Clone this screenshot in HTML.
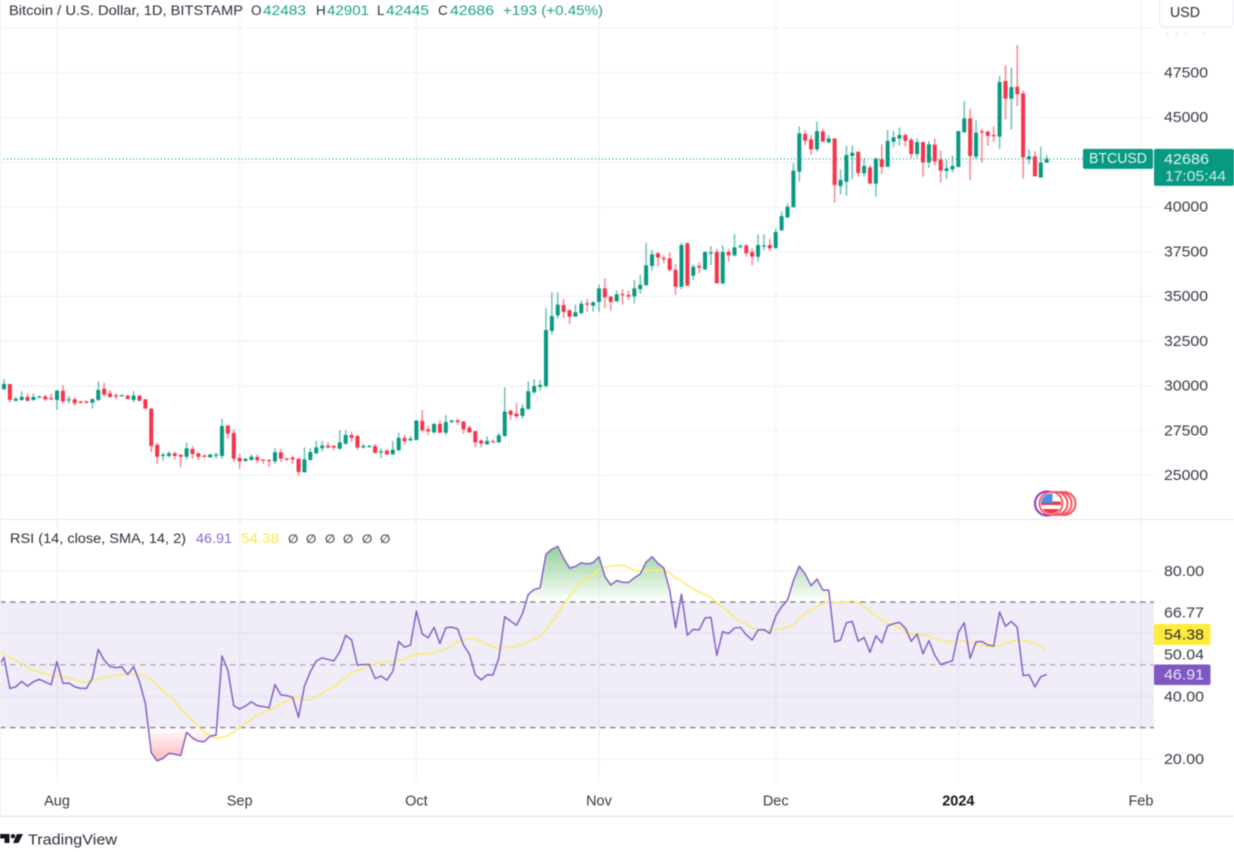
<!DOCTYPE html>
<html lang="en">
<head>
<meta charset="utf-8">
<title>Bitcoin / U.S. Dollar chart</title>
<style>
  html, body { margin: 0; padding: 0; background: #ffffff; width: 1234px; height: 852px; overflow: hidden; }
  #chart { display: block; filter: blur(0.5px); font-family: "Liberation Sans", Arial, sans-serif; }
</style>
</head>
<body>
<svg id="chart" xmlns="http://www.w3.org/2000/svg" width="1234" height="852" viewBox="0 0 1234 852">
  <rect x="0" y="0" width="1234" height="852" fill="#ffffff"/>
  <defs id="defs"></defs>
  <g id="grid"></g>
  <g id="rsiBand"></g>
  <g id="candles"></g>
  <g id="rsiLines"></g>
  <g id="axes"></g>

  <rect x="0" y="519" width="1234" height="1" fill="#e4e3f0"/>
  <rect x="0" y="0" width="1" height="817" fill="#eceef4"/>
  <rect x="0" y="815.5" width="1234" height="1.5" fill="#e6e8ef"/>

  <g font-size="13.5">
    <text x="9" y="15" fill="#2a2e39" textLength="234" lengthAdjust="spacingAndGlyphs">Bitcoin / U.S. Dollar, 1D, BITSTAMP</text>
    <text x="251" y="15" fill="#2a2e39">O</text>
    <text x="263" y="15" fill="#1fa386" textLength="43" lengthAdjust="spacingAndGlyphs">42483</text>
    <text x="316" y="15" fill="#2a2e39">H</text>
    <text x="327" y="15" fill="#1fa386" textLength="42" lengthAdjust="spacingAndGlyphs">42901</text>
    <text x="377" y="15" fill="#2a2e39">L</text>
    <text x="386" y="15" fill="#1fa386" textLength="43" lengthAdjust="spacingAndGlyphs">42445</text>
    <text x="438" y="15" fill="#2a2e39">C</text>
    <text x="450" y="15" fill="#1fa386" textLength="44" lengthAdjust="spacingAndGlyphs">42686</text>
    <text x="503" y="15" fill="#1fa386" textLength="100" lengthAdjust="spacingAndGlyphs">+193 (+0.45%)</text>
  </g>

  <g font-size="13.5">
    <text x="10" y="543" fill="#2a2e39" textLength="176" lengthAdjust="spacingAndGlyphs">RSI (14, close, SMA, 14, 2)</text>
    <text x="196" y="543" fill="#8a6bcb" textLength="36" lengthAdjust="spacingAndGlyphs">46.91</text>
    <text x="241" y="543" fill="#fde64b" textLength="38" lengthAdjust="spacingAndGlyphs">54.38</text>
    <g font-family="'DejaVu Sans', sans-serif" font-size="12" font-weight="700" fill="#4a4e59">
      <text x="288" y="543">∅</text>
      <text x="306" y="543">∅</text>
      <text x="325" y="543">∅</text>
      <text x="343" y="543">∅</text>
      <text x="362" y="543">∅</text>
      <text x="380" y="543">∅</text>
    </g>
  </g>

  <g>
    <circle cx="1064" cy="503.5" r="11.5" fill="#fff" stroke="#f8545f" stroke-width="2"/>
    <circle cx="1060" cy="503.5" r="11.5" fill="#fff" stroke="#f8545f" stroke-width="2"/>
    <circle cx="1056" cy="503.5" r="11.5" fill="#fff" stroke="#f8545f" stroke-width="2"/>
    <circle cx="1047" cy="503.5" r="12" fill="#fff" stroke="#9c3fc0" stroke-width="2.2"/>
    <circle cx="1051" cy="503.5" r="11.5" fill="#fff" stroke="#f8545f" stroke-width="1.8"/>
    <clipPath id="flagClip"><circle cx="1051" cy="503.5" r="10"/></clipPath>
    <g clip-path="url(#flagClip)">
      <rect x="1041" y="493" width="20" height="21" fill="#ffffff"/>
      <rect x="1041" y="501.5" width="20" height="3.5" fill="#f23645"/>
      <rect x="1041" y="509" width="20" height="5" fill="#f23645"/>
      <rect x="1041" y="493" width="11.5" height="10" fill="#4a90e8"/>
    </g>
  </g>

  <g fill="#c9ccd4">
    <rect x="1167" y="33" width="1.5" height="1"/>
    <rect x="1176" y="33" width="1.5" height="1"/>
    <rect x="1185" y="33" width="1.5" height="1"/>
    <rect x="1204" y="33" width="1.5" height="1"/>
  </g>

  <g>
    <rect x="1159.5" y="-8" width="74" height="35" rx="5" fill="#ffffff" stroke="#e6e8ef"/>
    <text x="1170" y="17" font-size="14.5" fill="#2a2e39" textLength="30" lengthAdjust="spacingAndGlyphs">USD</text>
  </g>

  <g>
    <path d="M0 834 H9.5 V843 H4.5 V838.5 H0 Z" fill="#131722"/>
    <circle cx="13" cy="836.2" r="2.2" fill="#131722"/>
    <path d="M17 834 H23 L18.5 843 H13 Z" fill="#131722"/>
    <text x="28" y="844.5" font-size="15" fill="#2a2e39" textLength="89" lengthAdjust="spacingAndGlyphs">TradingView</text>
  </g>
</svg>

<script>
// ---- chart data (one entry per day, 23 Jul 2023 to 16 Jan 2024) ----
const opens = [29810,30105,29170,29210,29380,29210,29340,29400,29320,29210,
29730,29210,29250,29130,29130,29060,29210,29840,29580,29470,
29430,29450,29210,29450,29250,28730,26700,26080,26080,26230,
26150,26040,26470,26230,26100,26000,26120,26080,27780,27370,
25970,25800,25860,26020,25890,25860,25780,26290,25950,25990,
25930,25170,25860,26230,26510,26660,26640,26490,26770,27250,
27200,26560,26600,26640,26270,26380,26170,26400,27090,26960,
26970,28040,27570,27400,27870,27380,27980,28060,28000,27660,
27460,26940,26730,26900,26840,27200,28600,28450,28320,28710,
29640,29940,29990,33070,33940,34520,34220,33870,34070,34610,
34480,34690,35450,34990,34730,35130,35080,35000,35410,35620,
36700,37410,37150,37130,36480,35540,37970,36160,36700,36510,
37440,37480,35730,37480,37300,37780,37850,37480,37220,37820,
37870,37710,38700,39420,39980,41970,44080,43780,43220,44220,
43610,43830,41170,41410,42850,43090,41880,42210,41300,42660,
42250,43650,43830,44020,43760,42960,43630,42490,43480,42640,
42010,42100,42230,44170,44950,42810,44230,44210,44020,43930,
47040,46050,46720,46350,42660,42830,41640,42483];
const highs = [30380,30105,29400,29710,29580,29580,29450,29510,29580,29770,
30050,29430,29360,29170,29170,29320,30250,30180,29770,29580,
29530,29490,29710,29510,29250,28760,26830,26270,26360,26320,
26150,26830,26640,26270,26170,26190,26270,28170,27830,27570,
26190,26000,26170,26170,25890,25890,26510,26490,25950,26100,
25930,26560,26510,26920,26920,26860,26700,27520,27520,27440,
27240,26750,26700,26750,26510,26450,26920,27380,27270,27200,
28090,28650,27780,27920,28090,28370,28110,28190,28060,27780,
27500,27010,27180,27010,27370,29920,28690,29040,28970,30250,
30370,30310,34350,35230,35230,34860,34280,34540,34780,34860,
34740,35670,36010,35020,35320,35400,35320,35920,36200,38000,
37590,37480,37300,37460,36790,38000,38000,36790,36890,37520,
37820,37670,37870,37650,38470,37930,37910,37690,38470,38470,
38210,38800,39740,40200,42440,44490,44300,44020,44770,44380,
44020,43830,42100,43430,43440,43090,42700,42330,42770,43500,
44300,44240,44450,44080,43870,43830,43630,43690,43830,43150,
42620,42880,44240,45920,45490,44840,44380,44240,44490,47320,
47920,47790,49050,46500,43240,43110,43370,42901];
const lows = [29770,29070,29120,29170,29120,29170,29320,29150,29210,28650,
29000,29020,28880,28990,29000,28730,29170,29400,29320,29250,
29400,29250,29080,29120,28730,26300,25630,25820,26000,25890,
25450,25860,25930,25860,26000,25990,25930,25930,27050,25750,
25370,25760,25820,25670,25630,25450,25630,25730,25780,25630,
24980,25150,25820,26190,26320,26490,26420,26420,26700,26880,
26420,26490,26550,26230,25960,26150,26150,26360,26730,26900,
26970,27380,27240,27330,27350,27250,27920,27810,27330,27380,
26580,26560,26710,26830,26820,27160,28090,28170,28170,28650,
29550,29730,29900,32860,33760,33790,33460,33870,34000,34130,
34130,34130,34330,34200,34670,34540,34800,34610,35150,35620,
36440,36660,36850,36360,35080,35400,35600,35920,36290,36480,
36760,35730,35670,36940,37220,37690,37220,36740,36940,37590,
37540,37650,38650,39360,39980,41410,43440,42900,43090,43630,
43560,40240,40700,40630,41560,41690,41690,41300,40570,41840,
42210,43330,43430,43370,42720,42770,41690,42180,42330,41360,
41560,41920,42230,44150,41510,42660,42490,43420,43630,43240,
44900,44320,45640,41580,42400,41710,41640,42445];
const closes = [30105,29210,29280,29380,29170,29380,29400,29250,29250,29730,
29130,29250,29020,29060,29060,29250,29770,29510,29380,29400,
29470,29270,29450,29170,28730,26640,26040,26150,26230,26080,
26040,26510,26190,26040,26040,26170,26160,27760,27330,25930,
25780,25910,26040,25840,25860,25820,26290,25930,25890,25890,
25190,25890,26300,26560,26660,26560,26550,26840,27250,27100,
26550,26640,26640,26250,26340,26170,26430,27090,26900,27050,
28060,27520,27460,27870,27380,27980,28060,27980,27570,27400,
26840,26770,26920,26860,27240,28560,28390,28300,28760,29700,
29990,30050,33120,33900,34540,34130,33870,34110,34590,34540,
34670,35450,34950,34690,35120,35080,34990,35450,35650,36740,
37350,37170,37070,36480,35540,37870,35600,36660,36610,37480,
37460,35730,37480,37300,37740,37820,37410,37220,37870,37850,
37690,38600,39490,40010,42030,44110,43700,43220,44240,43650,
43830,41230,41510,42900,43030,41900,42290,41300,42700,42230,
43690,43890,44020,43700,42960,43630,42490,43500,42550,42030,
42160,42290,44240,44950,42850,44150,44190,43970,43970,46980,
46050,46700,46310,42770,42830,41710,42480,42686];
const rsiValues = [52.3,42.5,43.0,44.7,43.2,44.6,45.4,44.5,43.7,51.0,
44.1,44.2,43.0,42.5,42.5,45.7,54.9,51.5,49.4,49.1,
49.3,46.9,49.4,44.6,37.7,22.0,19.4,20.2,21.8,21.5,
21.1,28.5,26.7,25.7,25.5,27.3,27.6,52.8,48.3,37.0,
35.9,36.9,38.2,37.0,36.7,36.3,43.7,40.4,40.2,39.6,
33.3,43.2,47.8,51.2,52.2,51.7,51.2,54.2,59.4,57.9,
49.9,50.1,50.1,45.6,46.4,45.1,47.9,57.4,55.6,56.3,
67.1,59.8,58.6,61.9,56.8,61.8,62.0,61.4,56.3,53.4,
46.8,45.2,46.8,46.8,52.1,65.3,63.9,62.6,66.2,72.4,
74.0,74.5,85.2,86.8,87.7,83.9,80.8,81.3,82.5,82.1,
82.5,84.4,78.1,75.4,76.8,76.3,76.2,77.7,78.9,82.7,
84.4,82.3,80.8,73.8,61.8,72.5,59.4,61.3,61.1,64.9,
65.1,53.0,60.6,59.9,61.7,61.9,59.5,57.9,61.1,61.2,
60.0,65.5,68.5,70.6,76.8,81.4,78.9,75.2,77.3,73.8,
73.8,57.3,57.9,63.4,63.8,57.5,58.7,54.0,59.2,57.0,
62.4,63.1,63.5,61.7,57.5,59.8,53.5,57.7,53.0,50.1,
50.7,51.3,60.3,63.4,52.1,57.3,57.4,56.3,56.0,66.8,
62.3,63.8,61.9,46.6,46.8,43.0,46.2,46.91];
const smaValues = [53.4,52.4,51.3,50.3,49.0,48.3,47.7,47.2,46.5,46.4,
46.1,45.8,45.3,44.7,44.2,44.9,45.6,46.0,46.3,46.6,
46.9,47.2,47.2,46.9,46.5,45.2,43.4,41.7,40.2,38.5,
35.8,34.0,32.4,30.3,28.6,27.3,26.5,26.9,27.5,28.7,
29.9,31.4,32.6,33.8,34.8,35.6,36.5,37.5,38.5,39.3,
39.5,39.1,38.9,39.9,40.9,42.1,43.1,44.5,46.0,47.5,
48.2,48.8,49.6,50.4,50.9,51.0,51.1,51.4,51.7,52.8,
53.3,53.4,53.5,53.9,54.4,55.1,56.1,57.3,58.0,58.3,
58.2,57.4,56.5,55.7,55.0,55.4,55.7,55.8,56.5,57.4,
58.2,59.0,61.3,63.6,66.4,69.2,71.7,74.2,76.3,77.5,
78.9,80.4,81.1,81.5,81.6,81.8,80.9,80.2,79.7,79.9,
80.1,80.2,80.0,79.2,77.7,76.7,75.3,74.1,73.2,72.4,
71.5,69.9,68.3,66.8,65.1,63.7,63.0,61.5,61.2,60.8,
60.8,61.1,61.5,61.9,62.7,64.8,66.2,67.5,68.5,69.6,
70.2,69.9,69.8,70.1,70.4,69.8,68.5,67.1,65.6,64.2,
63.3,62.6,61.9,60.9,59.7,59.8,59.5,59.1,58.3,57.8,
57.4,57.3,57.4,57.7,57.0,56.6,56.2,55.8,55.7,56.2,
56.7,57.3,57.8,57.7,57.4,56.6,55.8,54.38];
const rsiLeadIn = 49.5;
const smaLeadIn = 54.2;

const priceGridValues = [50000,47500,45000,42500,40000,37500,35000,32500,30000,27500,25000];
const priceTickValues = [47500,45000,40000,37500,35000,32500,30000,27500,25000];
const rsiGridValues = [80,60,40,20];
const rsiTickValues = [80,66.77,50.04,40,20];
const rsiLevels = [70,50,30];
const timeTickDays = [9,40,70,101,131,162,193];
const timeTickLabels = ["Aug","Sep","Oct","Nov","Dec","2024","Feb"];
const lastPrice = 42686;
const countdown = "17:05:44";
const lastRsi = 46.91;
const lastSma = 54.38;

// ---- axis functions ----
const PANE_RIGHT = 1154;
const PANE_BOTTOM = 783;
const xDay = d => 4 + d * 5.891;
const yPrice = p => 475.3 - (p - 25000) * 0.01789;
const yRsi = v => 759 - (v - 20) * 3.14;

const NS = 'http://www.w3.org/2000/svg';
function make(parent, tag, attrs, text) {
  const el = document.createElementNS(NS, tag);
  for (const k in attrs) el.setAttribute(k, attrs[k]);
  if (text !== undefined) el.textContent = text;
  parent.appendChild(el);
  return el;
}
const grid = document.getElementById('grid');
const band = document.getElementById('rsiBand');
const candlesG = document.getElementById('candles');
const rsiG = document.getElementById('rsiLines');
const axes = document.getElementById('axes');
const defs = document.getElementById('defs');
const GRID = '#f1f3f8';
const GREEN = '#089981';
const RED = '#f7344a';

// vertical grid
timeTickDays.forEach(function (d) {
  const el = make(grid, 'line', {x1: xDay(d), x2: xDay(d), y1: 0, y2: PANE_BOTTOM, stroke: GRID, 'stroke-width': 1.2});
  
  
});
// horizontal grid
priceGridValues.forEach(function (p) {
  const el = make(grid, 'line', {x1: 0, x2: PANE_RIGHT, y1: yPrice(p), y2: yPrice(p), stroke: GRID, 'stroke-width': 1.2});
  
  
});
rsiGridValues.forEach(function (v) {
  const el = make(grid, 'line', {x1: 0, x2: PANE_RIGHT, y1: yRsi(v), y2: yRsi(v), stroke: GRID, 'stroke-width': 1.2});
  
  
});

// RSI band between upper and lower levels
const bandRect = make(band, 'rect', {x: 0, y: yRsi(rsiLevels[0]), width: PANE_RIGHT, height: yRsi(rsiLevels[2]) - yRsi(rsiLevels[0]), fill: '#7e57c2', 'fill-opacity': 0.115});


rsiLevels.forEach(function (v, i) {
  const el = make(band, 'line', {x1: 0, x2: PANE_RIGHT, y1: yRsi(v), y2: yRsi(v), stroke: '#787b86', 'stroke-width': i === 1 ? 1 : 1.3, 'stroke-opacity': i === 1 ? 0.75 : 1, 'stroke-dasharray': '5.5 4.5'});
  
  
});

// last price dotted line
const priceLine = make(candlesG, 'line', {x1: 0, x2: 1083, y1: yPrice(lastPrice), y2: yPrice(lastPrice), stroke: GREEN, 'stroke-width': 1.1, 'stroke-dasharray': '1 2.5'});



// candles
closes.forEach(function (c, i) {
  const o = opens[i];
  const col = c >= o ? GREEN : RED;
  const wick = make(candlesG, 'line', {x1: xDay(i), x2: xDay(i), y1: yPrice(highs[i]), y2: yPrice(lows[i]), stroke: col, 'stroke-width': 1.5, 'stroke-opacity': 0.6});
  
  
  const top = yPrice(Math.max(o, c));
  const h = Math.max(1.2, Math.abs(yPrice(o) - yPrice(c)));
  const body = make(candlesG, 'rect', {x: xDay(i) - 2, y: top, width: 4, height: h, fill: col});
  
  
});

// RSI fills
function svgPoints(values, lead) {
  const pts = [[xDay(-1), yRsi(lead)]];
  values.forEach(function (v, i) { pts.push([xDay(i), yRsi(v)]); });
  return pts;
}
const rsiPts = svgPoints(rsiValues, rsiLeadIn);
const smaPts = svgPoints(smaValues, smaLeadIn);
const toStr = pts => pts.map(p => p[0].toFixed(2) + ',' + p[1].toFixed(2)).join(' ');

const gradUp = make(defs, 'linearGradient', {id: 'gradUp', gradientUnits: 'userSpaceOnUse', x1: 0, x2: 0, y1: yRsi(88), y2: yRsi(70)});
make(gradUp, 'stop', {offset: 0, 'stop-color': '#4caf50', 'stop-opacity': 0.6});
make(gradUp, 'stop', {offset: 1, 'stop-color': '#4caf50', 'stop-opacity': 0});
const gradDown = make(defs, 'linearGradient', {id: 'gradDown', gradientUnits: 'userSpaceOnUse', x1: 0, x2: 0, y1: yRsi(30), y2: yRsi(19)});
make(gradDown, 'stop', {offset: 0, 'stop-color': '#ff5252', 'stop-opacity': 0});
make(gradDown, 'stop', {offset: 1, 'stop-color': '#ff5252', 'stop-opacity': 0.42});
const clipUp = make(defs, 'clipPath', {id: 'clipUp'});
make(clipUp, 'rect', {x: 0, y: 520, width: PANE_RIGHT, height: yRsi(70) - 520});
const clipDown = make(defs, 'clipPath', {id: 'clipDown'});
make(clipDown, 'rect', {x: 0, y: yRsi(30), width: PANE_RIGHT, height: PANE_BOTTOM - yRsi(30)});

const first = rsiPts[0][0], last = rsiPts[rsiPts.length - 1][0];
const overFill = make(rsiG, 'polygon', {points: first + ',' + yRsi(70) + ' ' + toStr(rsiPts) + ' ' + last + ',' + yRsi(70), fill: 'url(#gradUp)', 'clip-path': 'url(#clipUp)'});


const underFill = make(rsiG, 'polygon', {points: first + ',' + yRsi(30) + ' ' + toStr(rsiPts) + ' ' + last + ',' + yRsi(30), fill: 'url(#gradDown)', 'clip-path': 'url(#clipDown)'});



const smaLine = make(rsiG, 'polyline', {points: toStr(smaPts), fill: 'none', stroke: '#fdeb6a', 'stroke-width': 1.5, 'stroke-linejoin': 'round'});


const rsiLine = make(rsiG, 'polyline', {points: toStr(rsiPts), fill: 'none', stroke: '#8562c8', 'stroke-width': 1.5, 'stroke-linejoin': 'round'});



// axis labels
const AXIS = {'font-size': 15, fill: '#363a45', 'dominant-baseline': 'central', textLength: 44, lengthAdjust: 'spacingAndGlyphs'};
priceTickValues.forEach(function (p) {
  const el = make(axes, 'text', Object.assign({x: 1164, y: yPrice(p) + 0.2}, AXIS), String(p));
  
  
});
rsiTickValues.forEach(function (v) {
  // the 50.04 label is pushed up by the value badge beneath it in the reference
  const nudge = v === 50.04 ? -9.5 : 0.7;
  const el = make(axes, 'text', Object.assign({x: 1164, y: yRsi(v) + nudge}, AXIS, {textLength: 40}), v.toFixed(2));
  
  
});
timeTickDays.forEach(function (d, i) {
  const isYear = timeTickLabels[i] === '2024';
  const el = make(axes, 'text', {x: xDay(d), y: 801.5, 'text-anchor': 'middle', 'dominant-baseline': 'central', 'font-size': 14.5, fill: isYear ? '#131722' : '#363a45', 'font-weight': isYear ? 700 : 400}, timeTickLabels[i]);
  
  
});

// price badges
const symBadge = make(axes, 'rect', {x: 1083, y: yPrice(lastPrice) - 10, width: 70, height: 20, rx: 2, fill: GREEN});


const symText = make(axes, 'text', {x: 1089, y: yPrice(lastPrice), 'dominant-baseline': 'central', 'font-size': 14.5, fill: '#e4f5f1', textLength: 58, lengthAdjust: 'spacingAndGlyphs'}, 'BTCUSD');


const priceBadge = make(axes, 'rect', {x: 1154, y: yPrice(lastPrice) - 10, width: 80, height: 37, rx: 2, fill: GREEN});


const priceText = make(axes, 'text', {x: 1164, y: yPrice(lastPrice) + 0.5, 'dominant-baseline': 'central', 'font-size': 15, fill: '#e4f5f1', textLength: 45, lengthAdjust: 'spacingAndGlyphs'}, String(lastPrice));


const countText = make(axes, 'text', {x: 1165, y: yPrice(lastPrice) + 17.5, 'dominant-baseline': 'central', 'font-size': 15, fill: '#cdebe4', textLength: 61, lengthAdjust: 'spacingAndGlyphs'}, countdown);



// RSI value badges: the SMA badge is pushed up by the axis labels in the reference
const smaY = yRsi(lastSma) - 16.5;
const smaBadge = make(axes, 'rect', {x: 1154, y: smaY - 10.5, width: 56.5, height: 21, rx: 2, fill: '#ffeb3b'});


const smaText = make(axes, 'text', Object.assign({x: 1164, y: smaY + 0.5}, AXIS, {textLength: 40, fill: '#2a2e39'}), lastSma.toFixed(2));


const rsiY = yRsi(lastRsi);
const rsiBadge = make(axes, 'rect', {x: 1154, y: rsiY - 10, width: 56.5, height: 20.5, rx: 2, fill: '#7e57c2'});


const rsiText = make(axes, 'text', Object.assign({x: 1164, y: rsiY + 0.5}, AXIS, {textLength: 40, fill: '#ece7f6'}), lastRsi.toFixed(2));


</script>
</body>
</html>
